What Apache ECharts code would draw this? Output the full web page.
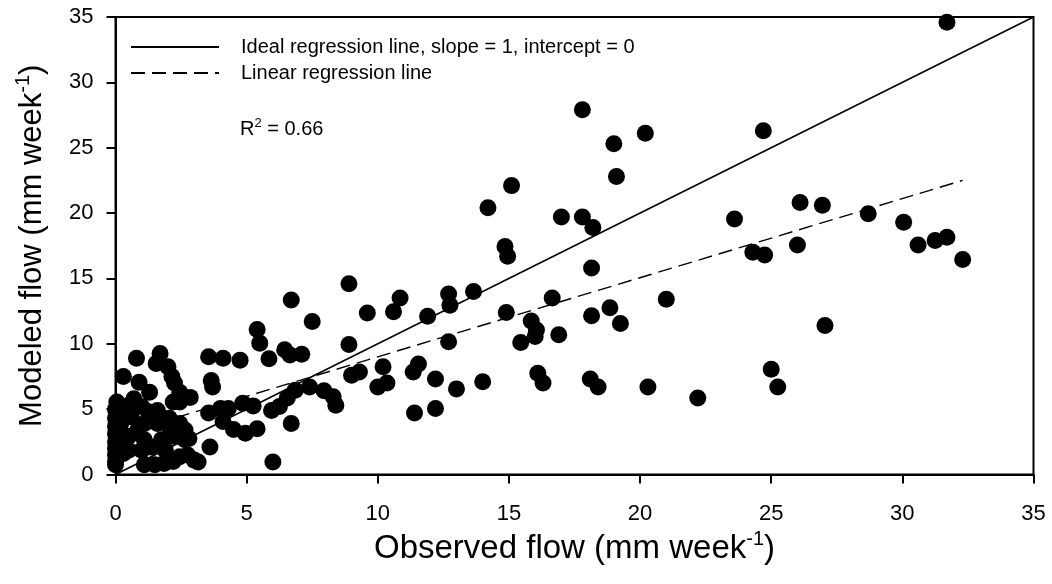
<!DOCTYPE html>
<html>
<head>
<meta charset="utf-8">
<script src="https://cdn.jsdelivr.net/npm/echarts@6/dist/echarts.min.js"></script>
<style>
html,body{margin:0;padding:0;background:#fff;}
#chart{width:1052px;height:584px;}
</style>
</head>
<body>
<div id="chart"></div>
<script>
// Observed flow (x) and modeled flow (y), mm week^-1
const observed = [
 31.7,24.7,17.8,19.0,20.2,19.1,15.1,14.2,17.0,17.8,18.2,14.85,14.95,18.15,23.6,26.1,26.95,28.7,30.05,24.3,
 24.75,26.0,30.6,31.25,31.7,32.3,27.05,25.0,25.25,22.2,
 12.7,12.75,13.65,11.9,14.9,16.65,21.0,18.15,18.85,19.25,15.85,16.05,16.0,16.9,15.45,12.7,12.2,13.0,14.0,16.1,
 16.3,18.1,18.4,20.3,12.2,11.4,6.7,8.9,7.5,9.6,10.85,10.6,6.45,6.65,7.1,8.9,9.0,9.3,10.2,10.0,
 10.35,11.35,11.55,7.4,7.95,8.3,8.4,6.85,6.55,6.25,5.95,6.7,6.0,
 5.4,5.5,3.55,4.1,4.75,5.85,3.65,3.7,3.55,4.0,4.3,4.1,4.85,5.25,4.5,4.95,5.4,3.6,3.15,
 0.8,1.7,1.55,2.0,2.15,2.25,0.3,0.9,1.3,2.45,2.85,2.2,2.45,0.05,0.5,0.7,1.0,0.1,0.6,1.25,
 1.6,1.1,1.6,2.05,2.45,2.65,2.25,2.65,2.8,0.5,0.85,1.1,0.5,1.0,1.35,1.75,1.9,1.1,1.5,1.85,
 2.2,2.45,2.75,3.0,1.95,2.1,0,0,0,0,0,0,0,0,0.1,0.1,0.05,0.2,0.2,0.3,0
];
const modeled = [
 34.6,26.3,27.9,25.3,26.1,22.8,22.1,20.4,19.7,19.7,18.9,17.45,16.7,15.8,19.55,20.8,20.6,19.95,19.3,17.0,
 16.8,17.55,17.55,17.9,18.15,16.45,11.4,8.05,6.7,5.85,
 13.8,12.95,14.0,12.1,12.4,13.5,13.4,12.15,12.75,11.55,11.75,11.05,10.55,10.7,10.1,10.15,7.3,6.55,7.1,7.75,
 7.0,7.3,6.7,6.7,5.05,4.7,13.35,14.6,11.7,12.35,13.5,12.45,9.55,9.15,9.2,9.95,7.6,7.85,8.25,6.7,
 7.0,7.85,8.45,6.7,6.4,5.95,5.3,6.45,5.85,5.2,4.9,3.9,0.95,
 11.1,10.05,9.0,8.9,8.75,8.85,7.2,6.7,4.7,5.05,5.05,4.05,5.45,5.25,3.45,3.15,3.5,2.1,0.95,
 8.9,9.25,8.5,8.25,7.5,7.0,7.5,7.05,6.3,6.3,5.9,5.55,5.55,5.55,5.3,5.8,5.2,4.4,4.4,4.8,
 4.9,3.9,3.9,4.3,3.9,3.4,2.9,2.65,2.75,2.9,3.4,2.65,1.85,1.85,2.1,2.65,1.85,0.75,0.75,0.85,
 1.0,1.35,1.5,1.1,4.15,3.4,5.0,4.3,3.7,3.1,2.5,2.0,1.5,1.0,3.4,2.3,1.3,3.9,2.7,1.6,0.75
];
// Reference lines (end points)
const idealX = [0, 35];
const idealY = [0, 35];
const regX = [0, 32.3];
const regY = [2.95, 22.5];
const xTicks = [0, 5, 10, 15, 20, 25, 30, 35];
const yTicks = [0, 5, 10, 15, 20, 25, 30, 35];
const legendNames = ['Ideal regression line, slope = 1, intercept = 0', 'Linear regression line'];
const r2Text = 'R{sup|2} = 0.66';
const xTitle = 'Observed flow (mm week{sup|-1})';
const yTitle = 'Modeled flow (mm week{sup|-1})';

const FONT = 'Liberation Sans, Arial, sans-serif';
const pts = observed.map((x, i) => [x, modeled[i]]);
const ideal = idealX.map((x, i) => [x, idealY[i]]);
const reg = regX.map((x, i) => [x, regY[i]]);

const mkTitleStyle = (fs) => ({fontFamily: FONT, fontSize: fs, color: '#000', lineHeight: 38,
  rich: {sup: {fontFamily: FONT, fontSize: 20, verticalAlign: 'top', lineHeight: 20, color: '#000'}}});

const chart = echarts.init(document.getElementById('chart'), null, {renderer: 'canvas'});
chart.setOption({
  animation: false,
  backgroundColor: '#fff',
  textStyle: {fontFamily: FONT},
  grid: {left: 115.5, right: 18.5, top: 17, bottom: 109.5, show: true, borderColor: '#000', borderWidth: 2, backgroundColor: 'transparent'},
  title: {
    text: r2Text, left: 240, top: 117, padding: 0,
    textStyle: {fontFamily: FONT, fontSize: 20, fontWeight: 'normal', color: '#000', lineHeight: 24,
      rich: {sup: {fontFamily: FONT, fontSize: 13, verticalAlign: 'top', lineHeight: 14, color: '#000'}}}
  },
  legend: {
    left: 130, top: 37, padding: 0, orient: 'vertical', itemWidth: 88, itemHeight: 14, itemGap: 6,
    data: legendNames,
    itemStyle: {opacity: 0},
    textStyle: {fontFamily: FONT, fontSize: 20, color: '#000', lineHeight: 20, padding: [0, 0, 0, 17]}
  },
  xAxis: {
    type: 'value', min: 0, max: 35, interval: 5,
    name: xTitle, nameLocation: 'middle', nameGap: 55,
    nameTextStyle: mkTitleStyle(33),
    axisLine: {show: true, lineStyle: {color: '#000', width: 2}},
    axisTick: {show: true, inside: false, length: 9, lineStyle: {color: '#000', width: 2}},
    axisLabel: {fontFamily: FONT, fontSize: 22, color: '#000', margin: 28, formatter: v => xTicks.includes(v) ? String(v) : ''},
    splitLine: {show: false}
  },
  yAxis: {
    type: 'value', min: 0, max: 35, interval: 5,
    name: yTitle, nameLocation: 'middle', nameGap: 64, nameRotate: 90,
    nameTextStyle: mkTitleStyle(31),
    axisLine: {show: true, lineStyle: {color: '#000', width: 2}},
    axisTick: {show: true, inside: false, length: 9, lineStyle: {color: '#000', width: 2}},
    axisLabel: {fontFamily: FONT, fontSize: 22, color: '#000', margin: 22, formatter: v => yTicks.includes(v) ? String(v) : ''},
    splitLine: {show: false}
  },
  series: [
    {name: legendNames[0], type: 'line', data: ideal, symbol: 'none', z: 2,
     lineStyle: {color: '#000', width: 1.6, type: 'solid'}, itemStyle: {color: '#000'}},
    {name: legendNames[1], type: 'line', data: reg, symbol: 'none', z: 2,
     lineStyle: {color: '#000', width: 1.4, type: [14, 7]}, itemStyle: {color: '#000'}},
    {name: 'Data', type: 'scatter', data: pts, symbol: 'circle', symbolSize: 17, z: 3,
     itemStyle: {color: '#000', opacity: 1}}
  ]
});
</script>
</body>
</html>
